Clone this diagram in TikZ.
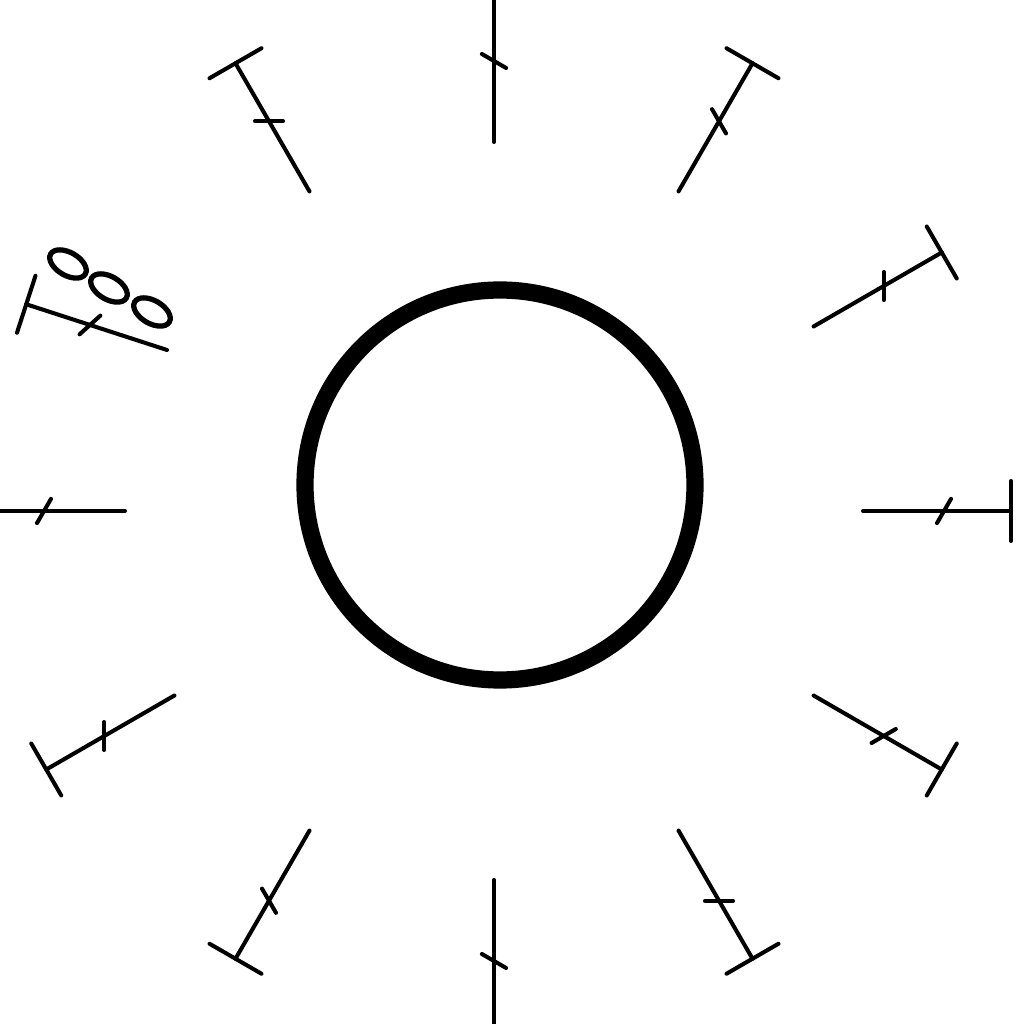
\documentclass[tikz,border=0pt]{standalone}
\usepackage{tikz}
\tikzset{spoke/.style={line width=1.15pt, line cap=round},
	hub/.style={line width=4.9pt},
	dial/.pic={
		\draw[spoke] (0,0) -- (148,0);
		\draw[spoke] (148,-30) -- (148,30);
		\draw[spoke] (81,0) ++(60:-14) -- ++(60:28);
	}}

\begin{document}
\begin{tikzpicture}[x=0.01cm,y=0.01cm]
\clip (0,0) rectangle (1024,1024);
\coordinate (hub) at (494,513);
\coordinate (ring) at (500,539);
\coordinate (stray) at (167,674);
\coordinate (o1) at (68,760);
\coordinate (o2) at (109,736);
\coordinate (o3) at (152,712);
\draw[hub] (ring) circle [radius=195];
\foreach \a in {0,30,60,90,120,180,210,240,270,300,330}
  \path (hub) ++(\a:369) pic[rotate=\a] {dial};
\path (stray) pic[rotate=162] {dial};
\foreach \o in {o1,o2,o3}
  \draw[spoke, line width=1.5pt, rotate around={-30:(\o)}] (\o) ellipse [x radius=20, y radius=11.5];
\end{tikzpicture}
\end{document}
